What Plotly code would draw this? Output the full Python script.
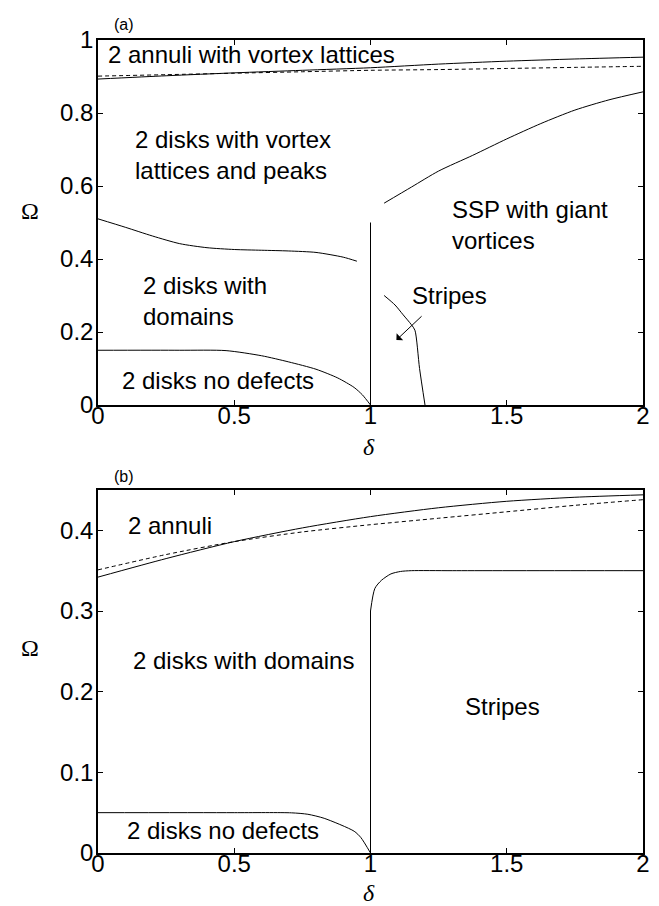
import plotly.graph_objects as go

# ---- panel (a) data ----
delta_a_annuli = [0, 0.25, 0.5, 0.75, 1.0, 1.25, 1.5, 1.75, 2.0]
omega_a_annuli_solid = [0.893, 0.902, 0.910, 0.917, 0.924, 0.934, 0.942, 0.948, 0.953]
omega_a_annuli_dash = [0.901, 0.905, 0.909, 0.913, 0.917, 0.919, 0.922, 0.925, 0.928]

delta_a_ssp = [1.05, 1.15, 1.25, 1.375, 1.5, 1.625, 1.75, 1.875, 2.0]
omega_a_ssp = [0.553, 0.597, 0.641, 0.684, 0.729, 0.771, 0.808, 0.836, 0.858]

delta_a_domains = [0, 0.1, 0.2, 0.3, 0.4, 0.5, 0.6, 0.7, 0.8, 0.9, 0.95]
omega_a_domains = [0.51, 0.487, 0.463, 0.442, 0.431, 0.426, 0.424, 0.422, 0.418, 0.405, 0.394]

delta_a_vertical = [1.0, 1.0]
omega_a_vertical = [0.0, 0.5]

delta_a_nodef = [0, 0.3, 0.47, 0.6, 0.7, 0.8, 0.88, 0.94, 0.97, 1.0]
omega_a_nodef = [0.15, 0.15, 0.149, 0.135, 0.118, 0.098, 0.074, 0.048, 0.028, 0.0]

delta_a_stripes = [1.05, 1.09, 1.12, 1.15, 1.163, 1.18, 1.2]
omega_a_stripes = [0.30, 0.274, 0.247, 0.22, 0.205, 0.10, 0.0]

# ---- panel (b) data ----
delta_b_annuli = [0, 0.25, 0.5, 0.75, 1.0, 1.25, 1.5, 1.75, 2.0]
omega_b_annuli_solid = [0.342, 0.365, 0.386, 0.403, 0.417, 0.428, 0.436, 0.441, 0.444]
omega_b_annuli_dash = [0.351, 0.370, 0.386, 0.398, 0.407, 0.415, 0.423, 0.431, 0.438]

delta_b_vertical = [1.0, 1.0]
omega_b_vertical = [0.0, 0.30]

delta_b_stripes = [1.0, 1.016, 1.04, 1.075, 1.11, 1.15, 1.3, 2.0]
omega_b_stripes = [0.30, 0.328, 0.338, 0.346, 0.349, 0.35, 0.35, 0.35]

delta_b_nodef = [0, 0.5, 0.71, 0.77, 0.83, 0.94, 0.965, 1.0]
omega_b_nodef = [0.05, 0.05, 0.0498, 0.048, 0.043, 0.027, 0.019, 0.0]

W, H = 659, 906
FONT = "Liberation Sans, Arial, sans-serif"
SERIF = "Liberation Serif, Times New Roman, serif"


def px_x(px):
    return px / W


def px_y(py):
    return 1 - py / H


fig = go.Figure()


def line(x, y, xa, ya, dash="solid", smooth=True):
    fig.add_trace(go.Scatter(x=x, y=y, mode="lines", xaxis=xa, yaxis=ya,
                             line=dict(color="black", width=1, dash=dash,
                                       shape="spline" if smooth else "linear",
                                       smoothing=0.7 if smooth else None),
                             showlegend=False, hoverinfo="skip"))


# panel (a)
line(delta_a_annuli, omega_a_annuli_solid, "x", "y")
line(delta_a_annuli, omega_a_annuli_dash, "x", "y", dash="4px,3px")
line(delta_a_ssp, omega_a_ssp, "x", "y")
line(delta_a_domains, omega_a_domains, "x", "y")
line(delta_a_vertical, omega_a_vertical, "x", "y", smooth=False)
line(delta_a_nodef, omega_a_nodef, "x", "y")
line(delta_a_stripes, omega_a_stripes, "x", "y")

# panel (b)
line(delta_b_annuli, omega_b_annuli_solid, "x2", "y2")
line(delta_b_annuli, omega_b_annuli_dash, "x2", "y2", dash="4px,3px")
line(delta_b_vertical, omega_b_vertical, "x2", "y2", smooth=False)
line(delta_b_stripes, omega_b_stripes, "x2", "y2")
line(delta_b_nodef, omega_b_nodef, "x2", "y2")

axis_style = dict(showline=True, linecolor="black", linewidth=1.5, mirror="allticks",
                  ticks="inside", ticklen=5, tickwidth=1, tickcolor="black",
                  showgrid=False, zeroline=False, automargin=False,
                  tickfont=dict(family=FONT, size=24, color="black"))

xdom = [90 / W, 635 / W]
fig.update_layout(
    width=W, height=H,
    margin=dict(l=0, r=0, t=0, b=0),
    paper_bgcolor="white", plot_bgcolor="white",
    xaxis=dict(domain=xdom, range=[0, 2], tickvals=[0, 0.5, 1, 1.5, 2], anchor="y",
               ticklabelstandoff=-12, **axis_style),
    yaxis=dict(domain=[px_y(397), px_y(32)], range=[0, 1],
               tickvals=[0, 0.2, 0.4, 0.6, 0.8, 1], anchor="x",
               ticklabelstandoff=-2, **axis_style),
    xaxis2=dict(domain=xdom, range=[0, 2], tickvals=[0, 0.5, 1, 1.5, 2], anchor="y2",
                ticklabelstandoff=-12, **axis_style),
    yaxis2=dict(domain=[px_y(845), px_y(482)], range=[0, 0.45],
                tickvals=[0, 0.1, 0.2, 0.3, 0.4], anchor="x2",
                ticklabelstandoff=-2, **axis_style),
)

labels = [
    ("2 annuli with vortex lattices", 0.029, 0.959, "x", "y"),
    ("2 disks with vortex<br>lattices and peaks", 0.128, 0.684, "x", "y"),
    ("SSP with giant<br>vortices", 1.292, 0.492, "x", "y"),
    ("2 disks with<br>domains", 0.158, 0.284, "x", "y"),
    ("2 disks no defects", 0.081, 0.066, "x", "y"),
    ("Stripes", 1.145, 0.301, "x", "y"),
    ("2 annuli", 0.103, 0.4066, "x2", "y2"),
    ("2 disks with domains", 0.121, 0.239, "x2", "y2"),
    ("2 disks no defects", 0.099, 0.0273, "x2", "y2"),
    ("Stripes", 1.339, 0.182, "x2", "y2"),
]
for text, x, y, xr, yr in labels:
    fig.add_annotation(text=text, x=x, y=y, xref=xr, yref=yr, showarrow=False,
                       xanchor="left", yanchor="middle", align="left",
                       font=dict(family=FONT, size=24, color="black"))

# arrow pointing into the stripes region
fig.add_annotation(x=1.095, y=0.178, ax=1.193, ay=0.247, xref="x", yref="y",
                   axref="x", ayref="y", text="", showarrow=True,
                   arrowhead=1, arrowsize=1.6, arrowwidth=1, arrowcolor="black")

# panel tags and axis symbols
for text, px, py in [("(a)", 116, 17), ("(b)", 116, 468)]:
    fig.add_annotation(text=text, x=px_x(px), y=px_y(py), xref="paper", yref="paper",
                       showarrow=False, xanchor="center", yanchor="middle",
                       font=dict(family=FONT, size=16, color="black"))

for px, py in [(22, 203), (22, 640)]:
    fig.add_annotation(text="Ω", x=px_x(px), y=px_y(py), xref="paper", yref="paper",
                       showarrow=False, xanchor="center", yanchor="middle",
                       font=dict(family=SERIF, size=24, color="black"))

for px, py in [(361, 439), (361, 885)]:
    fig.add_annotation(text="<i>δ</i>", x=px_x(px), y=px_y(py), xref="paper", yref="paper",
                       showarrow=False, xanchor="center", yanchor="middle",
                       font=dict(family=SERIF, size=24, color="black"))

fig.write_html("out.html")
